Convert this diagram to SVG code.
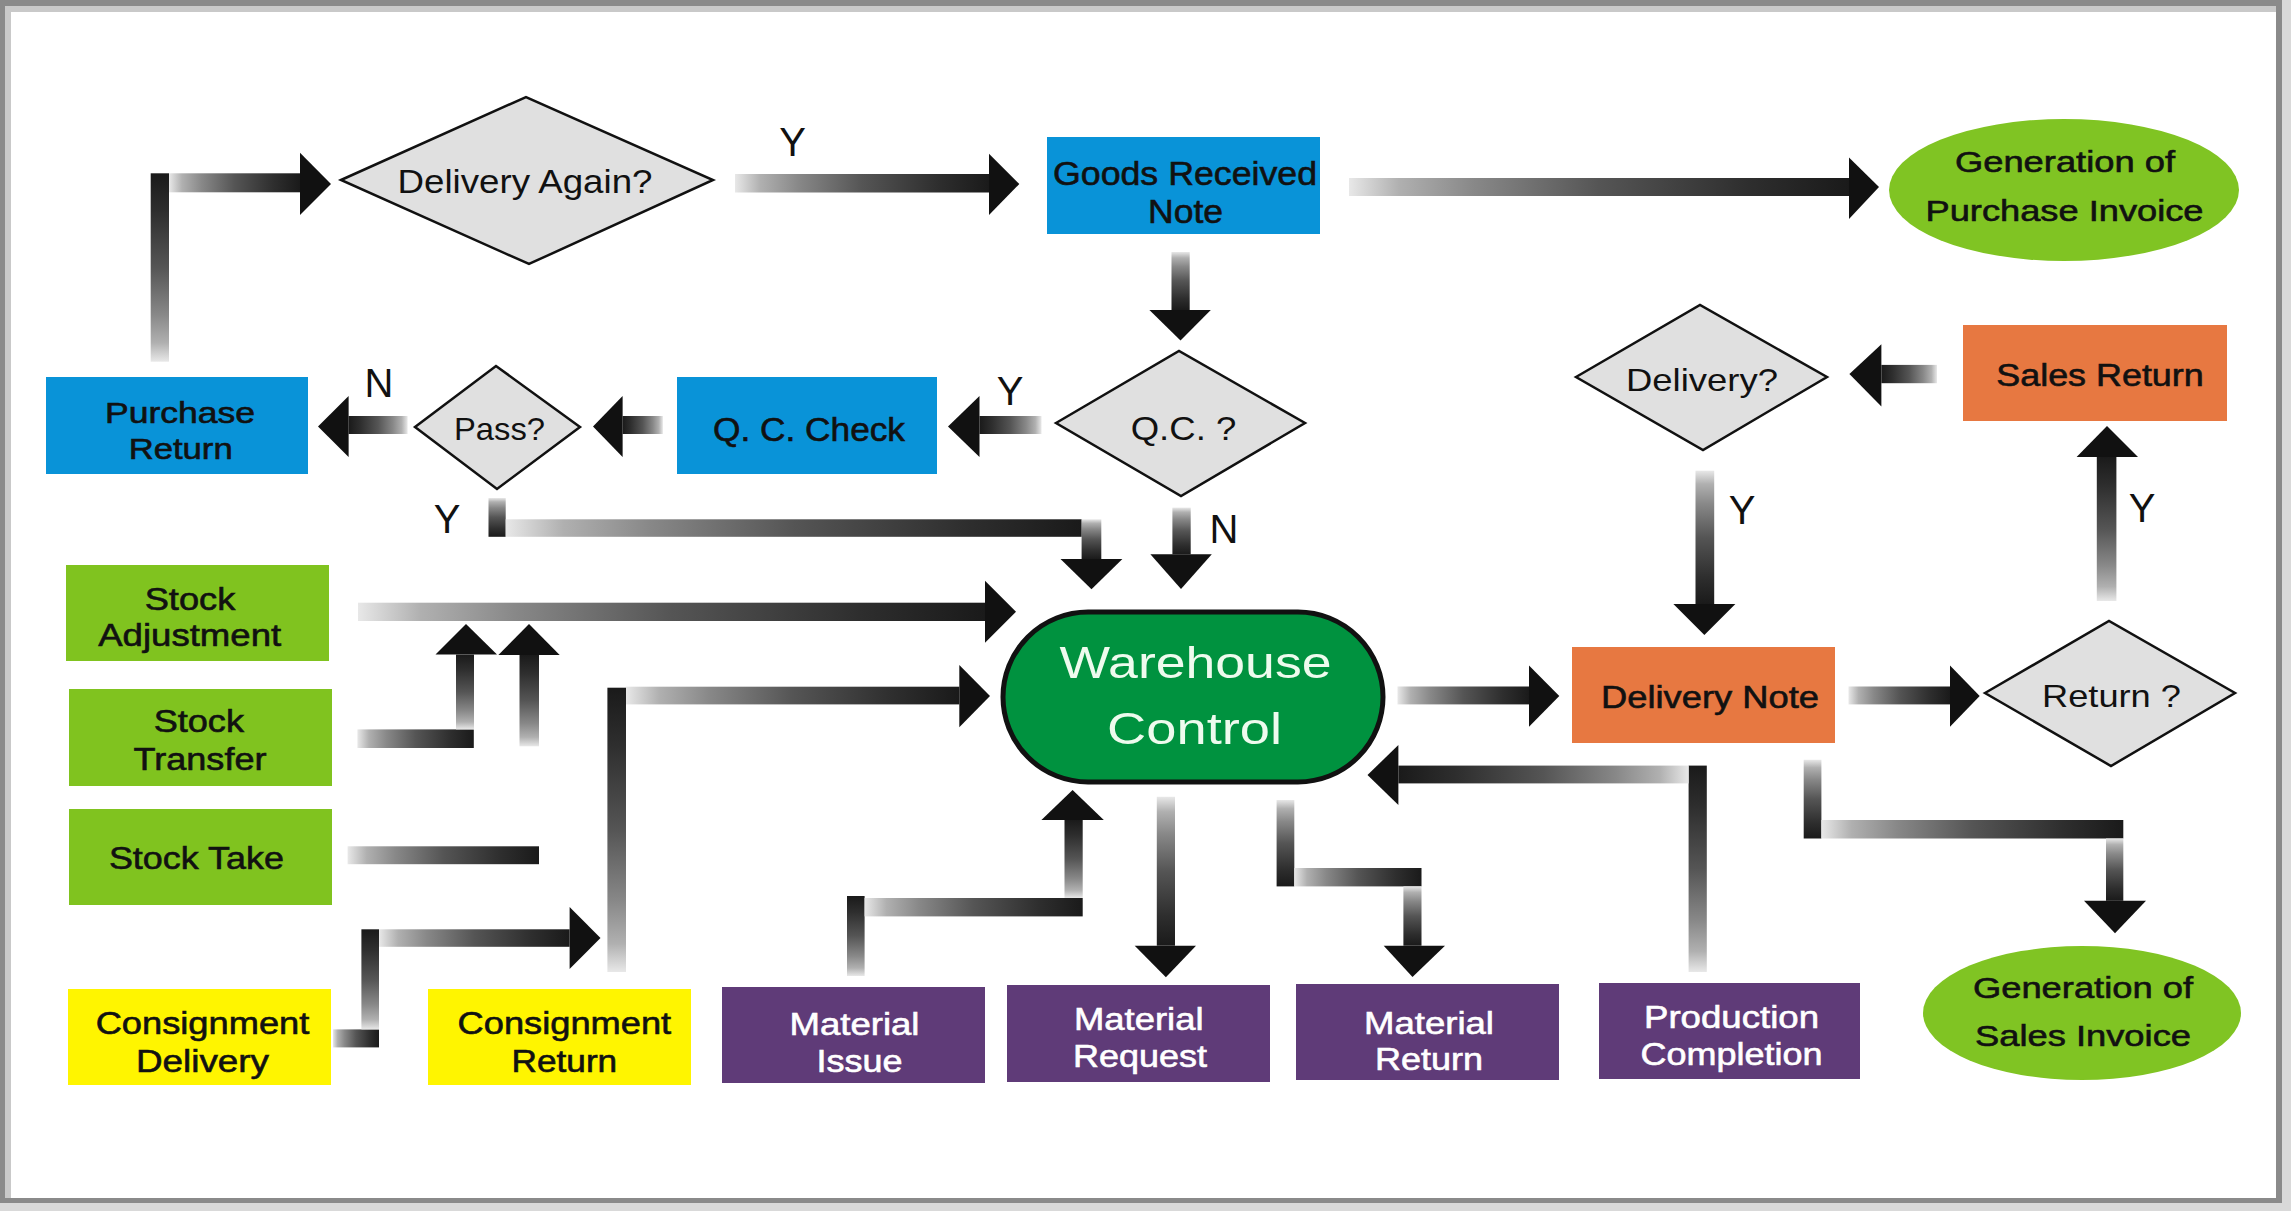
<svg xmlns="http://www.w3.org/2000/svg" width="2291" height="1211" viewBox="0 0 2291 1211">
<defs>
<style>
.t{font-family:"Liberation Sans",Arial,sans-serif;text-anchor:middle;fill:#111;stroke:#111;stroke-width:0.6}
.g{stroke:none}
.w{fill:#ffffff;stroke:#ffffff}
.wc{fill:#eefbee;stroke:none}
.lbl{font-family:"Liberation Sans",Arial,sans-serif;text-anchor:middle;font-size:40px;fill:#111}
.dia{fill:#e0e0e0;stroke:#111;stroke-width:2.5}
.blue{fill:#0993d8}
.green{fill:#80c31f}
.yellow{fill:#fff500}
.purple{fill:#5f3b78}
.orange{fill:#e77841}
.ell{fill:#80c423}
.ah{fill:#111}
</style>
<linearGradient id="gR" x1="0" y1="0" x2="1" y2="0">
<stop offset="0" stop-color="#e8e8e8"/><stop offset="0.1" stop-color="#b0b0b0"/><stop offset="0.25" stop-color="#888888"/><stop offset="0.5" stop-color="#555555"/><stop offset="0.8" stop-color="#2e2e2e"/><stop offset="1" stop-color="#1a1a1a"/>
</linearGradient>
<linearGradient id="gL" x1="1" y1="0" x2="0" y2="0">
<stop offset="0" stop-color="#e8e8e8"/><stop offset="0.1" stop-color="#b0b0b0"/><stop offset="0.25" stop-color="#888888"/><stop offset="0.5" stop-color="#555555"/><stop offset="0.8" stop-color="#2e2e2e"/><stop offset="1" stop-color="#1a1a1a"/>
</linearGradient>
<linearGradient id="gU" x1="0" y1="1" x2="0" y2="0">
<stop offset="0" stop-color="#e8e8e8"/><stop offset="0.1" stop-color="#b0b0b0"/><stop offset="0.25" stop-color="#888888"/><stop offset="0.5" stop-color="#555555"/><stop offset="0.8" stop-color="#2e2e2e"/><stop offset="1" stop-color="#1a1a1a"/>
</linearGradient>
<linearGradient id="gD" x1="0" y1="0" x2="0" y2="1">
<stop offset="0" stop-color="#e8e8e8"/><stop offset="0.1" stop-color="#b0b0b0"/><stop offset="0.25" stop-color="#888888"/><stop offset="0.5" stop-color="#555555"/><stop offset="0.8" stop-color="#2e2e2e"/><stop offset="1" stop-color="#1a1a1a"/>
</linearGradient>
</defs>

<g id="frame">
<rect x="0" y="0" width="2291" height="1211" fill="#d9d9d9"/>
<rect x="0" y="0" width="2282" height="1203" fill="#8a8a8a"/>
<rect x="5" y="6" width="2271" height="1192" fill="#c9c9c9"/>
<rect x="11" y="12" width="2265" height="1186" fill="#ffffff"/>
</g>

<g id="connectors">
<rect x="150.7" y="173.3" width="18.3" height="188.4" fill="url(#gU)"/>
<rect x="169" y="173.3" width="131" height="19" fill="url(#gR)"/>
<polygon class="ah" points="300,152.7 331,184 300,215"/>
<rect x="735" y="174" width="254" height="18.5" fill="url(#gR)"/>
<polygon class="ah" points="989,153.7 1019.3,184 989,215"/>
<rect x="1349" y="178" width="500" height="18" fill="url(#gR)"/>
<polygon class="ah" points="1849,157.5 1879,187 1849,219"/>
<rect x="1171.5" y="252" width="18.2" height="58" fill="url(#gD)"/>
<polygon class="ah" points="1149.4,310 1210.8,310 1180.5,340.4"/>
<rect x="979.5" y="416" width="62" height="18" fill="url(#gL)"/>
<polygon class="ah" points="979.5,396 948,426.5 979.5,457"/>
<rect x="622.6" y="416" width="40.3" height="18" fill="url(#gL)"/>
<polygon class="ah" points="622.6,396 593,426.5 622.6,457"/>
<rect x="348.6" y="416" width="59" height="18" fill="url(#gL)"/>
<polygon class="ah" points="348.6,396 318,426.5 348.6,457"/>
<rect x="488.5" y="498" width="17.2" height="38.8" fill="url(#gD)"/>
<rect x="505.7" y="519.3" width="576" height="17.5" fill="url(#gR)"/>
<rect x="1081.6" y="519.3" width="19.7" height="39.7" fill="url(#gD)"/>
<polygon class="ah" points="1060.5,559 1122.4,559 1091.5,589.3"/>
<rect x="1172.4" y="507.6" width="18.3" height="46.7" fill="url(#gD)"/>
<polygon class="ah" points="1150.4,554.3 1211.8,554.3 1181,589"/>
<rect x="358" y="602.7" width="627" height="18.3" fill="url(#gR)"/>
<polygon class="ah" points="985,580.7 1016,611.7 985,642.7"/>
<rect x="357.4" y="729.4" width="116.4" height="18.6" fill="url(#gR)"/>
<rect x="456" y="654.6" width="18" height="74.8" fill="url(#gU)"/>
<polygon class="ah" points="435.5,654.6 497,654.6 466,624"/>
<rect x="347.6" y="846.3" width="191.4" height="17.9" fill="url(#gR)"/>
<rect x="519.5" y="655" width="19.5" height="91.3" fill="url(#gU)"/>
<polygon class="ah" points="498.4,655 559.7,655 529,624"/>
<rect x="333" y="1029.4" width="46" height="18" fill="url(#gR)"/>
<rect x="361.4" y="929.3" width="17.6" height="100.1" fill="url(#gU)"/>
<rect x="379" y="929.3" width="190.6" height="17.5" fill="url(#gR)"/>
<polygon class="ah" points="569.6,907 600.5,938 569.6,969"/>
<rect x="607.4" y="687.7" width="18.6" height="284.3" fill="url(#gU)"/>
<rect x="626" y="686.7" width="333.3" height="17.7" fill="url(#gR)"/>
<polygon class="ah" points="959.3,665 990,696 959.3,727.3"/>
<rect x="847" y="896" width="17.6" height="80" fill="url(#gU)"/>
<rect x="864.6" y="898" width="218.1" height="18.4" fill="url(#gR)"/>
<rect x="1064.5" y="820" width="18.2" height="78" fill="url(#gU)"/>
<polygon class="ah" points="1041.4,820 1103.8,820 1072.6,790"/>
<rect x="1156.8" y="796.8" width="18.2" height="148.9" fill="url(#gD)"/>
<polygon class="ah" points="1134.7,945.7 1196,945.7 1165.9,977.2"/>
<rect x="1276.6" y="800" width="17.7" height="86.4" fill="url(#gD)"/>
<rect x="1294.3" y="868" width="127.2" height="18.4" fill="url(#gR)"/>
<rect x="1403.4" y="886.4" width="18.1" height="59.3" fill="url(#gD)"/>
<polygon class="ah" points="1383.7,945.7 1445,945.7 1412.5,977"/>
<rect x="1688.6" y="765.6" width="18.2" height="206.4" fill="url(#gU)"/>
<rect x="1398.4" y="765.6" width="290.2" height="17.8" fill="url(#gL)"/>
<polygon class="ah" points="1398.4,745 1367.5,775 1398.4,805"/>
<rect x="1397.5" y="686.5" width="131.5" height="17.9" fill="url(#gR)"/>
<polygon class="ah" points="1529,665.5 1559.3,696 1529,726.7"/>
<rect x="1695.5" y="470.7" width="18.7" height="133.3" fill="url(#gD)"/>
<polygon class="ah" points="1673.4,604 1735.4,604 1704.4,635"/>
<rect x="1881.4" y="364.9" width="55.6" height="18.3" fill="url(#gL)"/>
<polygon class="ah" points="1881.4,344.3 1849.4,374 1881.4,406.5"/>
<rect x="2096.8" y="457" width="19.6" height="144" fill="url(#gU)"/>
<polygon class="ah" points="2076.6,457 2138,457 2107,426"/>
<rect x="1848.5" y="686.5" width="101.5" height="17.9" fill="url(#gR)"/>
<polygon class="ah" points="1950,665.5 1979.7,696 1950,726.7"/>
<rect x="1803.7" y="759.8" width="17.7" height="78.7" fill="url(#gD)"/>
<rect x="1821.4" y="820" width="301.9" height="18.5" fill="url(#gR)"/>
<rect x="2106" y="838.5" width="17.3" height="62.3" fill="url(#gD)"/>
<polygon class="ah" points="2084,900.8 2146,900.8 2115,933.2"/>
</g>

<g id="labels">
<text class="lbl" x="792.6" y="155.6">Y</text>
<text class="lbl" x="1010" y="404.6">Y</text>
<text class="lbl" x="379" y="396.8">N</text>
<text class="lbl" x="447" y="533">Y</text>
<text class="lbl" x="1224" y="542.7">N</text>
<text class="lbl" x="1742" y="524">Y</text>
<text class="lbl" x="2142" y="522">Y</text>
</g>

<g id="delivery-again">
<polygon class="dia" points="341,180 526,97 713,180 529,264"/>
<text class="t g" x="525" y="193" font-size="33" textLength="255" lengthAdjust="spacingAndGlyphs">Delivery Again?</text>
</g>
<g id="goods-received-note">
<rect class="blue" x="1047" y="137" width="273" height="97"/>
<text class="t" x="1185" y="185" font-size="34" textLength="264" lengthAdjust="spacingAndGlyphs">Goods Received</text>
<text class="t" x="1185.6" y="222.5" font-size="34" textLength="75" lengthAdjust="spacingAndGlyphs">Note</text>
</g>
<g id="purchase-invoice">
<ellipse class="ell" cx="2064" cy="190" rx="175" ry="71"/>
<text class="t" x="2065" y="172" font-size="30" textLength="220" lengthAdjust="spacingAndGlyphs">Generation of</text>
<text class="t" x="2064.5" y="220.6" font-size="30" textLength="278" lengthAdjust="spacingAndGlyphs">Purchase Invoice</text>
</g>
<g id="purchase-return">
<rect class="blue" x="46" y="377" width="262" height="97"/>
<text class="t" x="180" y="422.7" font-size="29" textLength="150" lengthAdjust="spacingAndGlyphs">Purchase</text>
<text class="t" x="180.7" y="458.7" font-size="30" textLength="104" lengthAdjust="spacingAndGlyphs">Return</text>
</g>
<g id="pass">
<polygon class="dia" points="415,427 496,366 580,427 497,489"/>
<text class="t g" x="499.5" y="439.6" font-size="32" textLength="91" lengthAdjust="spacingAndGlyphs">Pass?</text>
</g>
<g id="qc-check">
<rect class="blue" x="677" y="377" width="260" height="97"/>
<text class="t" x="809" y="440.5" font-size="33" textLength="192" lengthAdjust="spacingAndGlyphs">Q. C. Check</text>
</g>
<g id="qc">
<polygon class="dia" points="1056,423 1179,351 1305,423 1181,496"/>
<text class="t g" x="1183.5" y="439.6" font-size="33" textLength="105.6" lengthAdjust="spacingAndGlyphs">Q.C. ?</text>
</g>
<g id="warehouse-control">
<rect x="1003" y="612" width="380" height="170" rx="85" ry="85" fill="#00923f" stroke="#111" stroke-width="5"/>
<text class="t wc" x="1195.5" y="678" font-size="44" textLength="272" lengthAdjust="spacingAndGlyphs">Warehouse</text>
<text class="t wc" x="1194.6" y="743.5" font-size="44" textLength="175" lengthAdjust="spacingAndGlyphs">Control</text>
</g>
<g id="delivery-note">
<rect class="orange" x="1572" y="647" width="263" height="96"/>
<text class="t" x="1710" y="708.3" font-size="31" textLength="218" lengthAdjust="spacingAndGlyphs">Delivery Note</text>
</g>
<g id="return">
<polygon class="dia" points="1985,693 2109,621 2235,693 2111,766"/>
<text class="t g" x="2111.5" y="707" font-size="32" textLength="139" lengthAdjust="spacingAndGlyphs">Return ?</text>
</g>
<g id="delivery">
<polygon class="dia" points="1576,377 1700,305 1827,377 1703,450"/>
<text class="t g" x="1702" y="391" font-size="32" textLength="152" lengthAdjust="spacingAndGlyphs">Delivery?</text>
</g>
<g id="sales-return">
<rect class="orange" x="1963" y="325" width="264" height="96"/>
<text class="t" x="2100" y="386.3" font-size="31" textLength="207.5" lengthAdjust="spacingAndGlyphs">Sales Return</text>
</g>
<g id="sales-invoice">
<ellipse class="ell" cx="2082" cy="1013" rx="159" ry="67"/>
<text class="t" x="2083" y="998.3" font-size="30" textLength="220" lengthAdjust="spacingAndGlyphs">Generation of</text>
<text class="t" x="2083" y="1046" font-size="30" textLength="216" lengthAdjust="spacingAndGlyphs">Sales Invoice</text>
</g>
<g id="production-completion">
<rect class="purple" x="1599" y="983" width="261" height="96"/>
<text class="t w" x="1731.5" y="1027.5" font-size="31" textLength="175" lengthAdjust="spacingAndGlyphs">Production</text>
<text class="t w" x="1731.5" y="1064.5" font-size="31" textLength="182" lengthAdjust="spacingAndGlyphs">Completion</text>
</g>
<g id="material-return">
<rect class="purple" x="1296" y="984" width="263" height="96"/>
<text class="t w" x="1429" y="1033.7" font-size="31" textLength="130" lengthAdjust="spacingAndGlyphs">Material</text>
<text class="t w" x="1429" y="1070.4" font-size="31" textLength="108" lengthAdjust="spacingAndGlyphs">Return</text>
</g>
<g id="material-request">
<rect class="purple" x="1007" y="985" width="263" height="97"/>
<text class="t w" x="1138.8" y="1029.8" font-size="31" textLength="129.5" lengthAdjust="spacingAndGlyphs">Material</text>
<text class="t w" x="1140" y="1066.9" font-size="31" textLength="134" lengthAdjust="spacingAndGlyphs">Request</text>
</g>
<g id="material-issue">
<rect class="purple" x="722" y="987" width="263" height="96"/>
<text class="t w" x="854.5" y="1035.3" font-size="31" textLength="130" lengthAdjust="spacingAndGlyphs">Material</text>
<text class="t w" x="859.5" y="1072.3" font-size="31" textLength="86" lengthAdjust="spacingAndGlyphs">Issue</text>
</g>
<g id="consignment-return">
<rect class="yellow" x="428" y="989" width="263" height="96"/>
<text class="t" x="564.4" y="1033.7" font-size="31" textLength="213.6" lengthAdjust="spacingAndGlyphs">Consignment</text>
<text class="t" x="564.4" y="1071.5" font-size="31" textLength="105.6" lengthAdjust="spacingAndGlyphs">Return</text>
</g>
<g id="consignment-delivery">
<rect class="yellow" x="68" y="989" width="263" height="96"/>
<text class="t" x="202.5" y="1033.7" font-size="31" textLength="213.6" lengthAdjust="spacingAndGlyphs">Consignment</text>
<text class="t" x="202.5" y="1071.5" font-size="31" textLength="133" lengthAdjust="spacingAndGlyphs">Delivery</text>
</g>
<g id="stock-take">
<rect class="green" x="69" y="809" width="263" height="96"/>
<text class="t" x="196.4" y="868.9" font-size="32" textLength="175" lengthAdjust="spacingAndGlyphs">Stock Take</text>
</g>
<g id="stock-transfer">
<rect class="green" x="69" y="689" width="263" height="97"/>
<text class="t" x="198.8" y="731.7" font-size="31" textLength="90.3" lengthAdjust="spacingAndGlyphs">Stock</text>
<text class="t" x="200" y="769.5" font-size="31" textLength="133" lengthAdjust="spacingAndGlyphs">Transfer</text>
</g>
<g id="stock-adjustment">
<rect class="green" x="66" y="565" width="263" height="96"/>
<text class="t" x="190" y="610" font-size="31" textLength="90.6" lengthAdjust="spacingAndGlyphs">Stock</text>
<text class="t" x="189.7" y="645.6" font-size="31" textLength="183" lengthAdjust="spacingAndGlyphs">Adjustment</text>
</g>
</svg>
